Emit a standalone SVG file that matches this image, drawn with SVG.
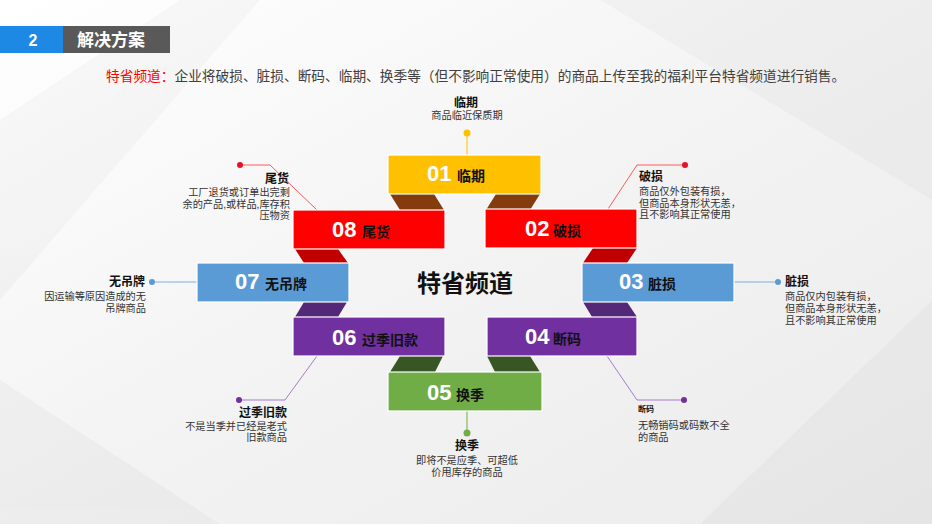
<svg xmlns="http://www.w3.org/2000/svg" width="932" height="524" viewBox="0 0 932 524">
<defs>
<linearGradient id="bg" x1="0" y1="0" x2="1" y2="1">
<stop offset="0" stop-color="#ffffff"/>
<stop offset="0.5" stop-color="#f3f3f3"/>
<stop offset="1" stop-color="#ebebeb"/>
</linearGradient>
<style>
text{font-family:"Liberation Sans","Noto Sans CJK SC",sans-serif}
.box{stroke:#ffffff;stroke-width:1.2}
.num{font-size:22px;font-weight:bold;fill:#ffffff}
.lbl{font-size:14px;font-weight:bold;fill:#111111}
.ttl{font-size:12px;font-weight:bold;fill:#111111}
.desc{font-size:10.2px;fill:#333333}
.end{text-anchor:end}
.mid{text-anchor:middle}
.ln{fill:none;stroke-width:1}
</style>
</defs>
<rect width="932" height="524" fill="url(#bg)"/>
<g fill="#000000" opacity="0.025">
<polygon points="0,120 180,0 260,0 0,300"/>
<polygon points="600,0 932,0 932,200"/>
<polygon points="700,524 932,300 932,524"/>
<polygon points="0,524 0,380 220,524"/>
</g>
<g id="header">
<rect x="0" y="26" width="63" height="27" fill="#1E88E5"/>
<rect x="63" y="26" width="107" height="27" fill="#595959"/>
<text x="33" y="46" class="mid" style="font-size:16px;font-weight:bold;fill:#fff">2</text>
<text x="77" y="46" style="font-size:17px;font-weight:bold;fill:#fff">解决方案</text>
</g>
<g id="subtitle">
<text x="106" y="81" style="font-size:13.7px;fill:#404040"><tspan fill="#ff0000">特省频道：</tspan>企业将破损、脏损、断码、临期、换季等（但不影响正常使用）的商品上传至我的福利平台特省频道进行销售。</text>
</g>
<g id="folds">
<polygon points="390,194 434,194 444,210 400,210" fill="#843C0C"/>
<polygon points="496,194 540,194 530,210 486,210" fill="#843C0C"/>
<polygon points="295,249 338,249 348,263 304,263" fill="#C00000"/>
<polygon points="593,248 637,248 627,263 583,263" fill="#C00000"/>
<polygon points="304,302 347,302 338,317 295,317" fill="#532876"/>
<polygon points="583,302 627,302 637,317 592,317" fill="#532876"/>
<polygon points="400,356 443,356 435,372 390,372" fill="#375623"/>
<polygon points="487,356 530,356 540,372 495,372" fill="#375623"/>
</g>
<g id="connectors">
<line x1="467" y1="133" x2="467" y2="155" class="ln" stroke="#FFC000"/>
<circle cx="467" cy="133" r="3.5" fill="#FFC000"/>
<polyline points="240,165 270,165 317,210" class="ln" stroke="#FF5A5A"/>
<circle cx="240" cy="165" r="3" fill="#E81123"/>
<polyline points="685,165 637,165 608,209" class="ln" stroke="#FF5A5A"/>
<circle cx="685" cy="165" r="3" fill="#E81123"/>
<line x1="152" y1="282" x2="197" y2="282" class="ln" stroke="#7FB0DD"/>
<circle cx="152" cy="282" r="3" fill="#5B9BD5"/>
<line x1="734" y1="282" x2="778" y2="282" class="ln" stroke="#7FB0DD"/>
<circle cx="778" cy="282" r="3" fill="#5B9BD5"/>
<polyline points="317,356 285,400 239,400" class="ln" stroke="#A77BCB"/>
<circle cx="239" cy="400" r="3" fill="#7030A0"/>
<polyline points="607,356 637,400 684,400" class="ln" stroke="#A77BCB"/>
<circle cx="684" cy="400" r="3" fill="#7030A0"/>
<line x1="467" y1="411" x2="467" y2="433" class="ln" stroke="#70AD47"/>
<circle cx="467" cy="433" r="3.5" fill="#70AD47"/>
</g>
<g id="n01">
<rect x="388" y="155" width="153" height="39" class="box" fill="#FFC000"/>
<text x="427" y="181" class="num">01</text>
<text x="457" y="181" class="lbl">临期</text>
</g>
<g id="n08">
<rect x="293" y="210" width="152" height="39" class="box" fill="#FF0000"/>
<text x="332" y="237" class="num">08</text>
<text x="362" y="237" class="lbl">尾货</text>
</g>
<g id="n02">
<rect x="485" y="209" width="152" height="39" class="box" fill="#FF0000"/>
<text x="525" y="236" class="num">02</text>
<text x="553" y="236" class="lbl">破损</text>
</g>
<g id="n07">
<rect x="197" y="263" width="152" height="39" class="box" fill="#5B9BD5"/>
<text x="235" y="289" class="num">07</text>
<text x="265" y="289" class="lbl">无吊牌</text>
</g>
<g id="n03">
<rect x="582" y="263" width="152" height="39" class="box" fill="#5B9BD5"/>
<text x="619" y="289" class="num">03</text>
<text x="648" y="289" class="lbl">脏损</text>
</g>
<g id="n06">
<rect x="293" y="317" width="152" height="39" class="box" fill="#7030A0"/>
<text x="332" y="345" class="num">06</text>
<text x="362" y="345" class="lbl">过季旧款</text>
</g>
<g id="n04">
<rect x="487" y="317" width="150" height="39" class="box" fill="#7030A0"/>
<text x="525" y="344" class="num">04</text>
<text x="553" y="344" class="lbl">断码</text>
</g>
<g id="n05">
<rect x="388" y="372" width="154" height="39" class="box" fill="#70AD47"/>
<text x="427" y="400" class="num">05</text>
<text x="456" y="400" class="lbl">换季</text>
</g>
<g id="center">
<text x="465" y="292" class="mid" style="font-size:24px;font-weight:bold;fill:#111">特省频道</text>
</g>
<g id="a01">
<text x="466" y="107" class="ttl mid">临期</text>
<text x="467" y="119" class="desc mid">商品临近保质期</text>
</g>
<g id="a08">
<text x="289" y="183" class="ttl end">尾货</text>
<text x="290" y="196" class="desc end">工厂退货或订单出完剩</text>
<text x="290" y="207.5" class="desc end">余的产品,或样品,库存积</text>
<text x="290" y="219" class="desc end">压物资</text>
</g>
<g id="a02">
<text x="639" y="181" class="ttl">破损</text>
<text x="639" y="195" class="desc">商品仅外包装有损，</text>
<text x="639" y="206.5" class="desc">但商品本身形状无恙，</text>
<text x="639" y="218" class="desc">且不影响其正常使用</text>
</g>
<g id="a07">
<text x="145" y="286" class="ttl end">无吊牌</text>
<text x="146" y="300" class="desc end">因运输等原因造成的无</text>
<text x="146" y="312" class="desc end">吊牌商品</text>
</g>
<g id="a03">
<text x="785" y="286" class="ttl">脏损</text>
<text x="785" y="300" class="desc">商品仅内包装有损，</text>
<text x="785" y="312" class="desc">但商品本身形状无恙，</text>
<text x="785" y="323.5" class="desc">且不影响其正常使用</text>
</g>
<g id="a06">
<text x="287" y="417" class="ttl end">过季旧款</text>
<text x="287" y="430" class="desc end">不是当季并已经是老式</text>
<text x="287" y="441" class="desc end">旧款商品</text>
</g>
<g id="a04">
<text x="638" y="412" style="font-size:8px;font-weight:bold;fill:#111">断码</text>
<text x="638" y="429" class="desc">无畅销码或码数不全</text>
<text x="638" y="441" class="desc">的商品</text>
</g>
<g id="a05">
<text x="467" y="450" class="ttl mid">换季</text>
<text x="467" y="464" class="desc mid">即将不是应季、可超低</text>
<text x="467" y="476" class="desc mid">价甩库存的商品</text>
</g>
</svg>
